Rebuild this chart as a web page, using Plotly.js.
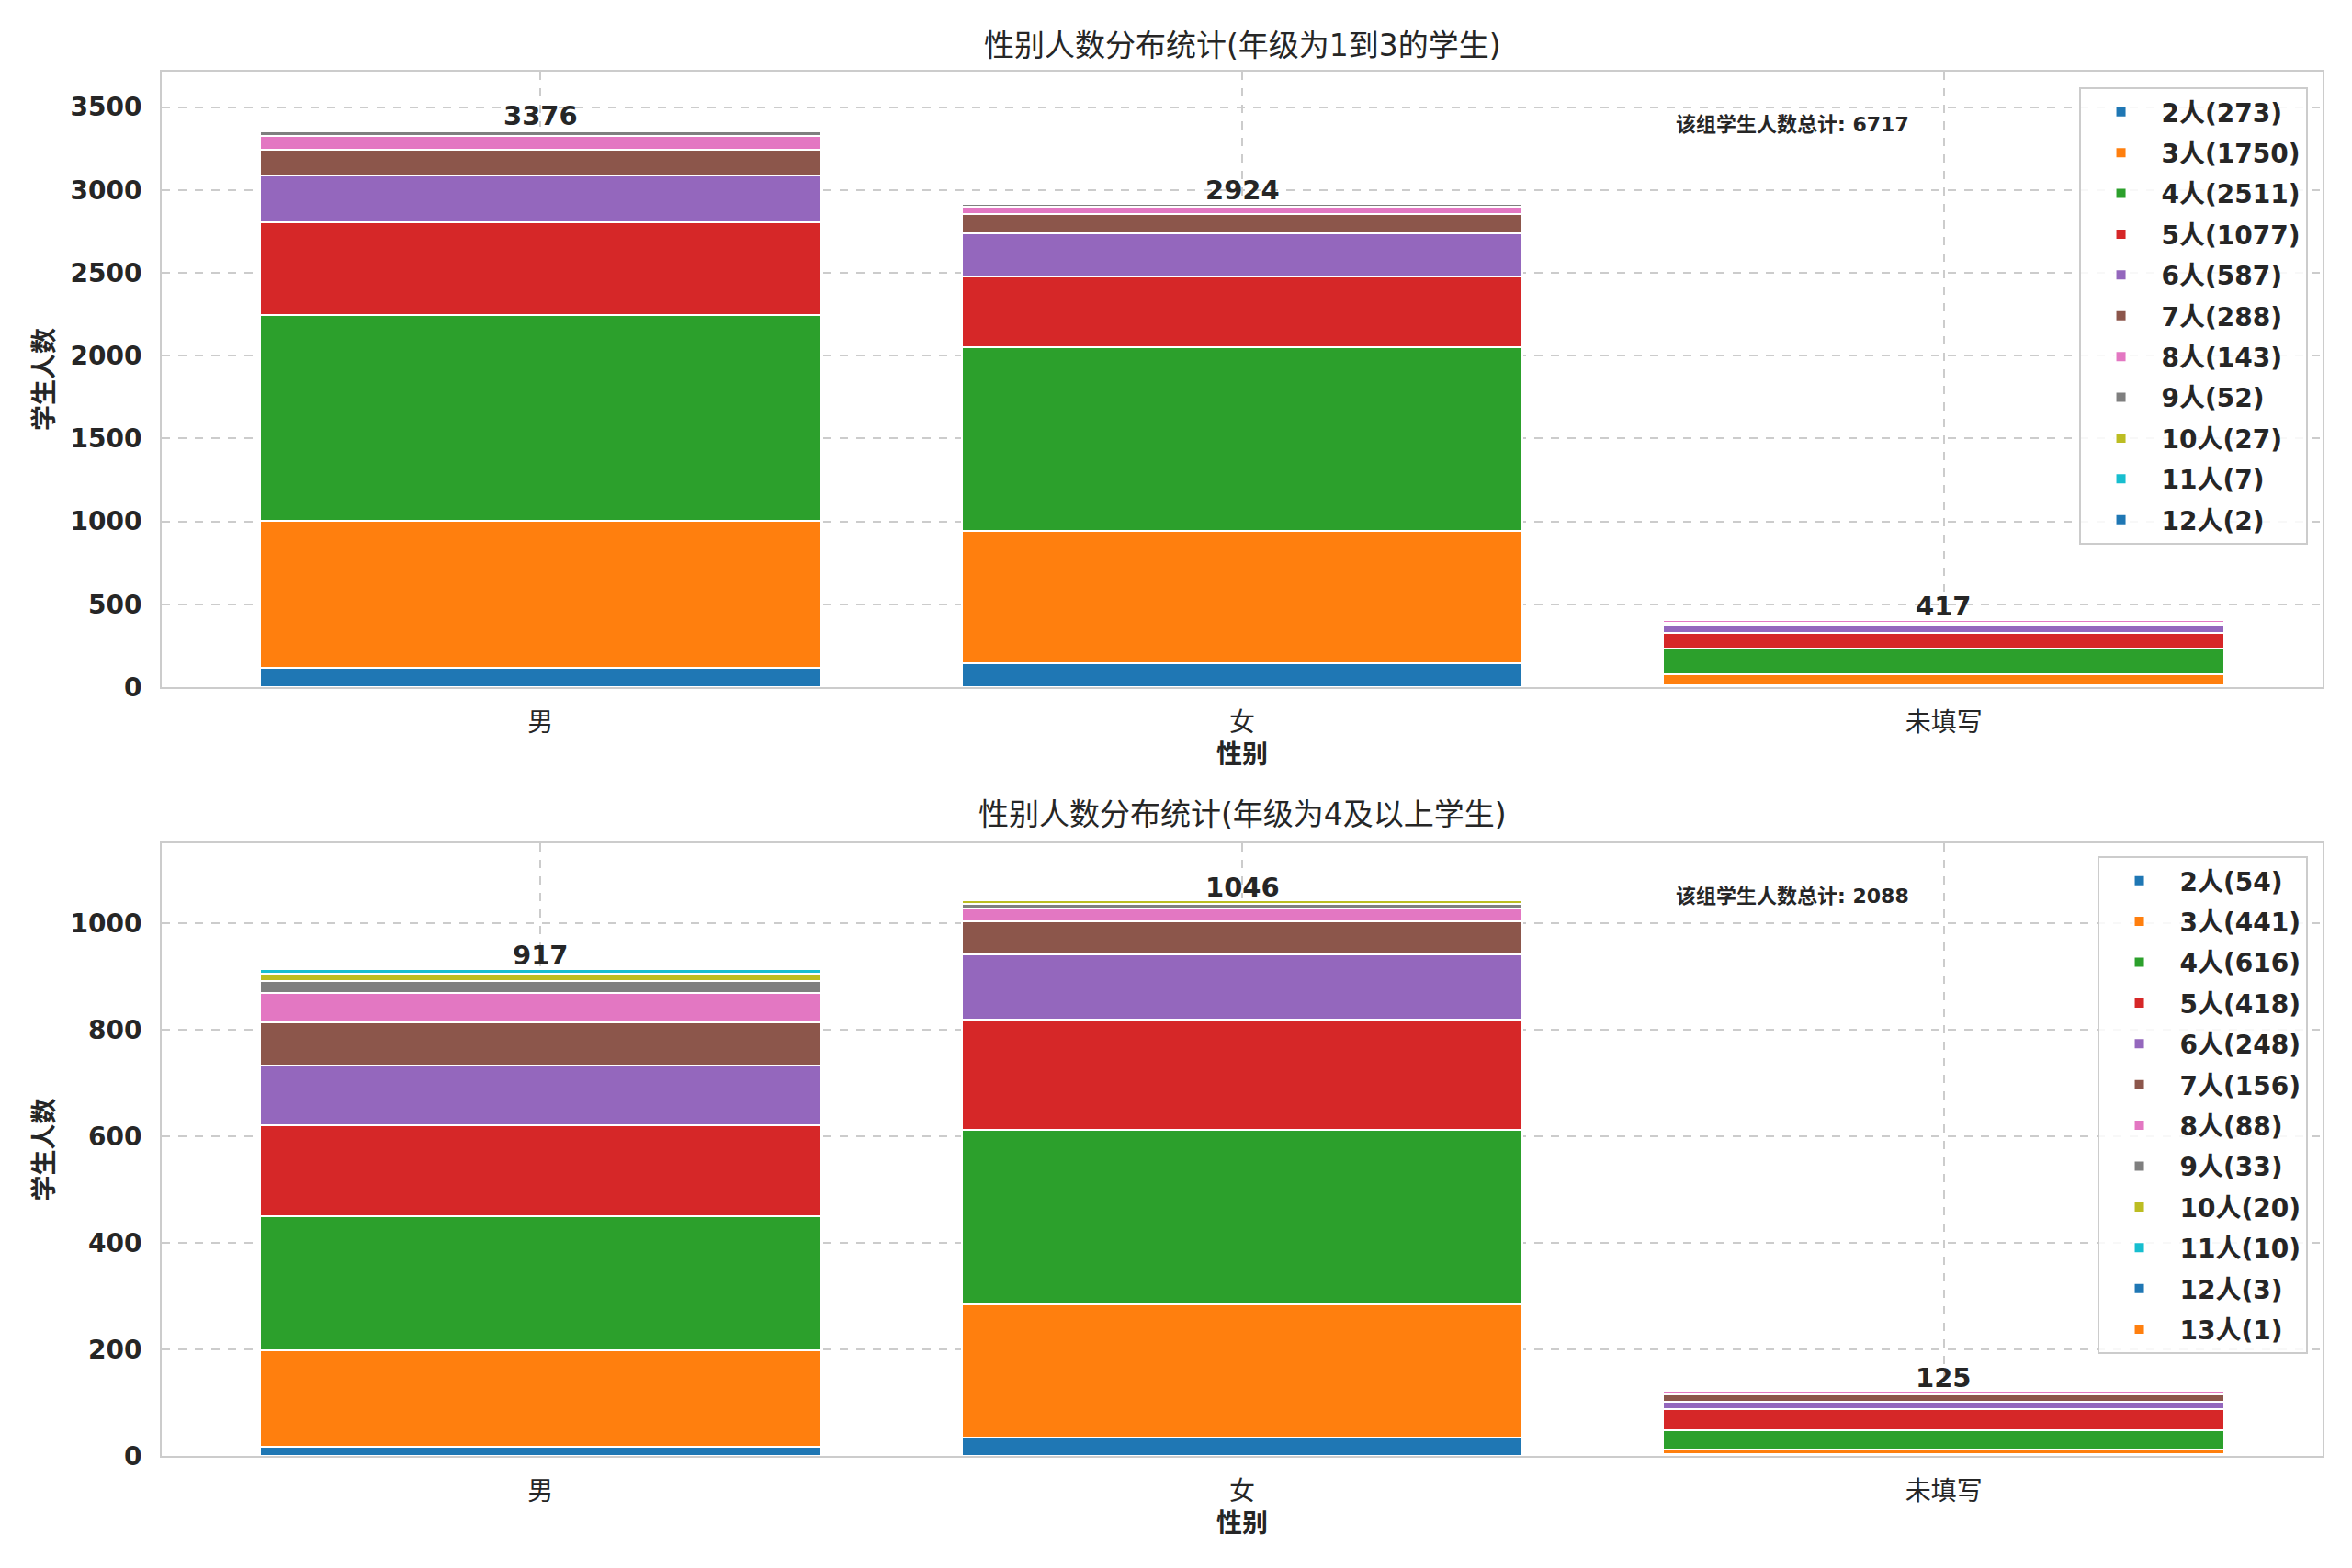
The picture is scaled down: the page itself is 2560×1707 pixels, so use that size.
<!DOCTYPE html>
<html>
<head>
<meta charset="utf-8">
<script src="https://cdn.plot.ly/plotly-3.0.1.min.js"></script>
<style>
  body { margin: 0; background: #fff; }
  #chart { width: 2560px; height: 1707px; }
</style>
</head>
<body>
<div id="chart"></div>
<script>
(function () {
    'use strict';

    // categories and series
    const genders = ['男', '女', '未填写'];
    const levelsTop = [2, 3, 4, 5, 6, 7, 8, 9, 10, 11, 12];
    const levelsBottom = [2, 3, 4, 5, 6, 7, 8, 9, 10, 11, 12, 13];

    // top panel: rows = level, columns = 男 / 女 / 未填写
    const topCounts = [
        [118, 144, 11],
        [884, 798, 68],
        [1245, 1111, 155],
        [560, 425, 92],
        [278, 259, 50],
        [160, 115, 13],
        [81, 45, 17],
        [30, 16, 6],
        [15, 8, 4],
        [4, 2, 1],
        [1, 1, 0]
    ];

    // bottom panel
    const bottomCounts = [
        [17, 34, 3],
        [182, 250, 9],
        [252, 328, 36],
        [170, 208, 40],
        [112, 122, 14],
        [81, 62, 13],
        [56, 24, 8],
        [22, 9, 2],
        [14, 6, 0],
        [8, 2, 0],
        [2, 1, 0],
        [1, 0, 0]
    ];

    const palette = ['#1f77b4', '#ff7f0e', '#2ca02c', '#d62728', '#9467bd',
        '#8c564b', '#e377c2', '#7f7f7f', '#bcbd22', '#17becf'];

    const titleTop = '性别人数分布统计(年级为1到3的学生)';
    const titleBottom = '性别人数分布统计(年级为4及以上学生)';
    const totalLabel = '该组学生人数总计';

    const FONT = 'DejaVu Sans, Noto Sans CJK SC, sans-serif';
    const TXT = '#262626';

    const sum = a => a.reduce((s, v) => s + v, 0);
    const colTotals = rows => genders.map((_, j) => sum(rows.map(r => r[j])));

    const makeTraces = function (levels, rows, xa, ya, legend, group) {
        return levels.map((lv, i) => ({
            type: 'bar',
            x: genders,
            y: rows[i],
            name: lv + '人(' + sum(rows[i]) + ')',
            xaxis: xa,
            yaxis: ya,
            legend: legend,
            legendgroup: group + i,
            marker: { color: palette[i % palette.length], line: { color: '#ffffff', width: 2 } },
            hoverinfo: 'x+y+name'
        }));
    };

    const topTotals = colTotals(topCounts);
    const bottomTotals = colTotals(bottomCounts);

    const data = makeTraces(levelsTop, topCounts, 'x', 'y', 'legend', 't')
        .concat(makeTraces(levelsBottom, bottomCounts, 'x2', 'y2', 'legend2', 'b'));

    const axisX = function (anchor) {
        return {
            anchor: anchor,
            type: 'category',
            range: [-0.54, 2.54],
            showgrid: true,
            gridcolor: '#cccccc',
            griddash: 'dash',
            gridwidth: 2,
            showline: true,
            mirror: true,
            linecolor: '#cccccc',
            linewidth: 2,
            ticks: 'outside',
            ticklen: 12,
            tickcolor: 'rgba(0,0,0,0)',
            tickfont: { family: FONT, size: 28, color: TXT },
            title: { text: '性别', font: { family: FONT, size: 28, color: TXT, weight: 'bold' }, standoff: 10 }
        };
    };
    const axisY = function (anchor, domain, top, step) {
        return {
            anchor: anchor,
            domain: domain,
            range: [0, top],
            dtick: step,
            showgrid: true,
            gridcolor: '#cccccc',
            griddash: 'dash',
            gridwidth: 2,
            zeroline: false,
            showline: true,
            mirror: true,
            linecolor: '#cccccc',
            linewidth: 2,
            ticks: 'outside',
            ticklen: 14,
            tickcolor: 'rgba(0,0,0,0)',
            tickfont: { family: FONT, size: 28, color: TXT, weight: 'bold' },
            title: { text: '学生人数', font: { family: FONT, size: 28, color: TXT, weight: 'bold' }, standoff: 10 }
        };
    };

    const legendBox = function (y) {
        return {
            x: 0.993, xanchor: 'right',
            y: y, yanchor: 'top',
            bgcolor: 'rgba(255,255,255,0.85)',
            bordercolor: '#cccccc',
            borderwidth: 2,
            traceorder: 'grouped',
            tracegroupgap: 5,
            itemwidth: 78,
            font: { family: FONT, size: 28, color: TXT, weight: 'bold' }
        };
    };

    const annotations = [];
    const addTotals = function (totals, xr, yr) {
        totals.forEach((t, j) => annotations.push({
            x: genders[j], y: t, xref: xr, yref: yr,
            text: String(t), showarrow: false, yanchor: 'bottom', yshift: -6,
            font: { family: FONT, size: 29, color: TXT, weight: 'bold' }
        }));
    };
    addTotals(topTotals, 'x', 'y');
    addTotals(bottomTotals, 'x2', 'y2');

    [[topTotals, 'x domain', 'y domain'], [bottomTotals, 'x2 domain', 'y2 domain']].forEach(p => {
        annotations.push({
            x: 0.70, y: 0.914, xref: p[1], yref: p[2], xanchor: 'left', yanchor: 'middle',
            text: totalLabel + ': ' + sum(p[0]), showarrow: false,
            font: { family: FONT, size: 22, color: TXT, weight: 'bold' }
        });
    });

    annotations.push({
        x: 0.5, y: 1.0192, xref: 'paper', yref: 'paper', yanchor: 'middle',
        text: titleTop, showarrow: false, font: { family: FONT, size: 33, color: TXT }
    });
    annotations.push({
        x: 0.5, y: 0.4632, xref: 'paper', yref: 'paper', yanchor: 'middle',
        text: titleBottom, showarrow: false, font: { family: FONT, size: 33, color: TXT }
    });

    const layout = {
        width: 2560,
        height: 1707,
        margin: { l: 176, r: 32, t: 78, b: 122 },
        paper_bgcolor: '#ffffff',
        plot_bgcolor: '#ffffff',
        barmode: 'stack',
        bargap: 0.2,
        font: { family: FONT, color: TXT },
        xaxis: axisX('y'),
        yaxis: axisY('x', [0.5554, 1], Math.max(...topTotals) * 1.1, 500),
        xaxis2: axisX('y2'),
        yaxis2: axisY('x2', [0, 0.4426], Math.max(...bottomTotals) * 1.1, 200),
        legend: legendBox(0.9887),
        legend2: legendBox(0.4333),
        annotations: annotations
    };

    window.Plotly.newPlot('chart', data, layout, { displayModeBar: false, staticPlot: true });
}());
</script>
</body>
</html>
